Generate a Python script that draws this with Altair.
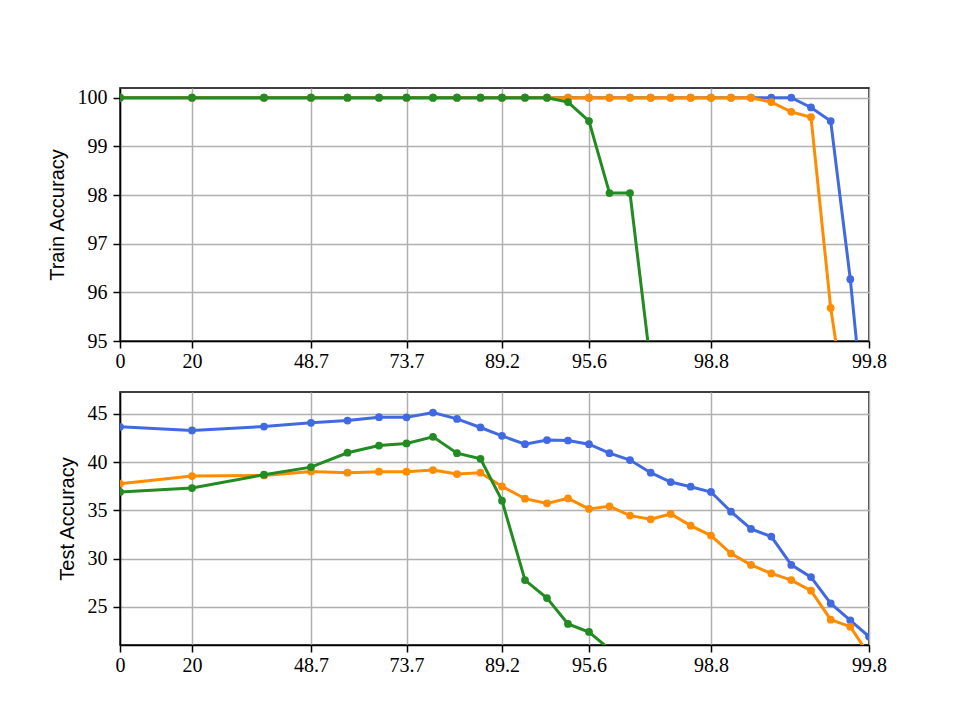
import altair as alt
import pandas as pd

# ---- data -------------------------------------------------------------
rounds = list(range(29))
tick_rounds = [0, 1, 3, 6, 10, 14, 20, 28]
tick_labels = ["0", "20", "48.7", "73.7", "89.2", "95.6", "98.8", "99.8"]

series_names = ["Run A", "Run B", "Run C"]

train_a = [100.0] * 25 + [99.80, 99.52, 96.27, 92.4]
train_b = [100.0] * 23 + [99.91, 99.71, 99.60, 95.68, 93.0]
train_c = [100.0] * 13 + [99.91, 99.52, 98.04, 98.04, 94.5]

test_a = [43.66, 43.28, 43.69, 44.07, 44.31, 44.66, 44.64, 45.14, 44.48, 43.59,
          42.72, 41.86, 42.28, 42.24, 41.86, 40.93, 40.21, 38.90, 37.93, 37.45,
          36.90, 34.86, 33.07, 32.28, 29.34, 28.07, 25.34, 23.59, 21.90]
test_b = [37.76, 38.55, 38.62, 39.03, 38.90, 39.00, 39.00, 39.17, 38.76, 38.90,
          37.48, 36.21, 35.72, 36.24, 35.14, 35.41, 34.45, 34.07, 34.62, 33.41,
          32.38, 30.52, 29.34, 28.45, 27.76, 26.66, 23.66, 22.93, 20.0]
test_c = [36.90, 37.31, 38.69, 39.48, 40.97, 41.72, 41.94, 42.62, 40.93, 40.34,
          36.00, 27.76, 25.90, 23.21, 22.38, 20.6]

train_all = [train_a, train_b, train_c]
test_all = [test_a, test_b, test_c]

# ---- styling ----------------------------------------------------------
colors = ["#4169E1", "#FF8C00", "#228B22"]
W, H = 749, 253
# piecewise x positions (pixels within plot area) for each round
x_range = [0, 72, 144, 191, 227.5, 259, 286.5, 313, 337, 360.5, 382, 405, 427,
           448, 469, 489.5, 510, 530.7, 550.7, 570.7, 591, 611, 631, 651.3,
           671.3, 691, 710.7, 730.3, 749]

label_expr = ""
for r, lab in zip(tick_rounds, tick_labels):
    label_expr += f"datum.value == {r} ? '{lab}' : "
label_expr += "''"

x_scale = alt.Scale(domain=rounds, range=x_range, nice=False, zero=False)
x_axis = alt.Axis(values=tick_rounds, labelExpr=label_expr, title=None,
                  labelPadding=3, labelFlush=False)


def build_frame(values_list, key):
    rows = []
    for name, vals in zip(series_names, values_list):
        for r, v in zip(rounds, vals):
            rows.append({"round": r, "series": name, key: v})
    return pd.DataFrame(rows)


def panel(values_list, key, ydomain, yticks, title):
    df = build_frame(values_list, key)
    layers = []
    for name, col in zip(series_names, colors):
        base = alt.Chart(df[df["series"] == name]).encode(
            x=alt.X("round:Q", scale=x_scale, axis=x_axis),
            y=alt.Y(f"{key}:Q",
                    scale=alt.Scale(domain=ydomain, nice=False, zero=False),
                    axis=alt.Axis(values=yticks, title=title, labelPadding=6,
                                  titlePadding=10, labelFlush=False)),
        )
        layers.append(base.mark_line(color=col, strokeWidth=3, clip=True))
        layers.append(base.mark_circle(color=col, size=60, opacity=1, clip=True))
    return alt.layer(*layers).properties(width=W, height=H)


top = panel(train_all, "train", [95, 100.2], [95, 96, 97, 98, 99, 100],
            "Train Accuracy")
bottom = panel(test_all, "test", [21.03, 47.27], [25, 30, 35, 40, 45],
               "Test Accuracy")

chart = alt.vconcat(top, bottom, spacing=19).properties(
    padding={"left": 38, "top": 78, "right": 10, "bottom": 10}
).configure_view(
    stroke="black", strokeWidth=1.5
).configure_axis(
    domainColor="black", domainWidth=1.5,
    tickColor="black", tickWidth=1.5, tickSize=7,
    gridColor="#b0b0b0", gridWidth=1.5,
    labelFont="Liberation Serif", labelFontSize=20, labelColor="black",
    titleFont="Liberation Sans", titleFontSize=20, titleFontWeight="normal",
    titleColor="black",
)

chart.save("out.html", embed_options={"renderer": "svg", "actions": False})
